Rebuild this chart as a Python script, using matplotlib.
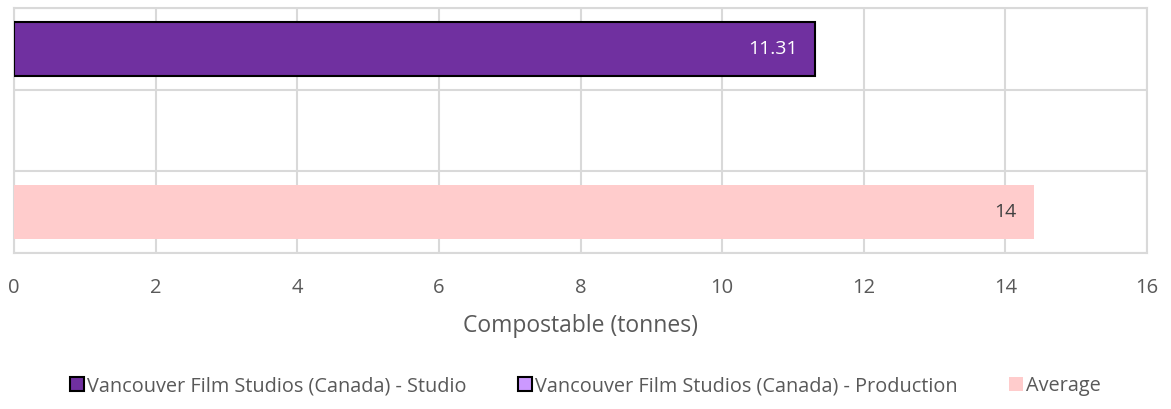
import numpy as np
import matplotlib
matplotlib.use("Agg")
import matplotlib.pyplot as plt
from matplotlib.patches import Patch

plt.rcParams['font.family'] = ['Open Sans', 'DejaVu Sans']

# data
series = ["Vancouver Film Studios (Canada) - Studio",
          "Vancouver Film Studios (Canada) - Production",
          "Average"]
values = [11.31, 0.0, 14.4]
labels = ["11.31", "", "14"]
colors = ["#7030A0", "#CC99FF", "#FFCCCC"]
edges = ["black", "black", "none"]
label_colors = ["white", "#404040", "#404040"]
xticks = [0, 2, 4, 6, 8, 10, 12, 14, 16]

fig = plt.figure(figsize=(11.71, 4.09), dpi=100)
ax = fig.add_axes([0.012, 0.382, 0.9675, 0.598])

ypos = [2, 1, 0]
for y, v, lab, c, ec, lc in zip(ypos, values, labels, colors, edges, label_colors):
    if v > 0:
        ax.barh(y, v, height=0.67, color=c, edgecolor=ec, linewidth=1.5, zorder=3)
        ax.text(v - 0.24, y, lab, ha='right', va='center', color=lc, fontsize=14, zorder=4)

ax.set_xlim(0, 16)
ax.set_ylim(-0.5, 2.5)
ax.set_xticks(xticks)
ax.set_xticklabels([str(t) for t in xticks], fontsize=14.5, color="#595959")
ax.set_yticks([-0.5, 0.5, 1.5, 2.5])
ax.set_yticklabels([])
ax.tick_params(length=0, pad=18)
ax.grid(True, color="#D9D9D9", linewidth=1.5, zorder=0)
for s in ax.spines.values():
    s.set_color("#D9D9D9")
    s.set_linewidth(1.5)
ax.set_xlabel("Compostable (tonnes)", fontsize=16.5, color="#595959", labelpad=12)

handles = [Patch(facecolor=c, edgecolor=ec, linewidth=1.5) for c, ec in zip(colors, edges)]
fig.legend(handles, series, loc='center', bbox_to_anchor=(0.5, 0.056), ncol=3, frameon=False,
           fontsize=14.3, labelcolor="#595959", handlelength=0.7, handleheight=0.7,
           handletextpad=0.15, columnspacing=2.6)

fig.savefig("out.png", dpi=100)
